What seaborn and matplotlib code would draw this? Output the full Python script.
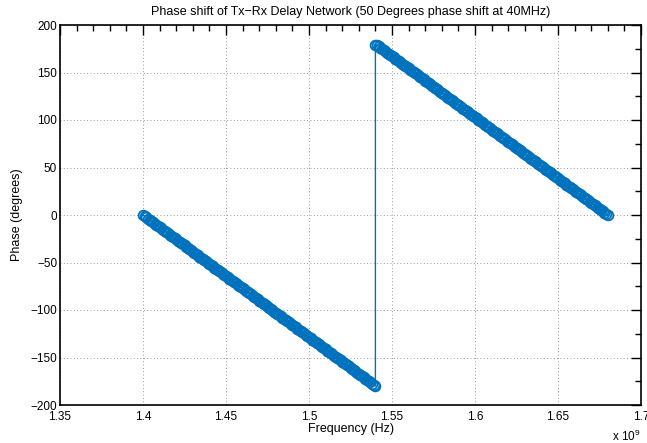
import numpy as np
import pandas as pd
import matplotlib
matplotlib.use("Agg")
import matplotlib.pyplot as plt
import seaborn as sns
from matplotlib.ticker import MultipleLocator, FuncFormatter

# Frequency samples (MHz) and measured phase (degrees), 1 MHz steps
freq_mhz_low = [1400, 1401, 1402, 1403, 1404, 1405, 1406, 1407, 1408, 1409,
                1410, 1411, 1412, 1413, 1414, 1415, 1416, 1417, 1418, 1419,
                1420, 1421, 1422, 1423, 1424, 1425, 1426, 1427, 1428, 1429,
                1430, 1431, 1432, 1433, 1434, 1435, 1436, 1437, 1438, 1439,
                1440, 1441, 1442, 1443, 1444, 1445, 1446, 1447, 1448, 1449,
                1450, 1451, 1452, 1453, 1454, 1455, 1456, 1457, 1458, 1459,
                1460, 1461, 1462, 1463, 1464, 1465, 1466, 1467, 1468, 1469,
                1470, 1471, 1472, 1473, 1474, 1475, 1476, 1477, 1478, 1479,
                1480, 1481, 1482, 1483, 1484, 1485, 1486, 1487, 1488, 1489,
                1490, 1491, 1492, 1493, 1494, 1495, 1496, 1497, 1498, 1499,
                1500, 1501, 1502, 1503, 1504, 1505, 1506, 1507, 1508, 1509,
                1510, 1511, 1512, 1513, 1514, 1515, 1516, 1517, 1518, 1519,
                1520, 1521, 1522, 1523, 1524, 1525, 1526, 1527, 1528, 1529,
                1530, 1531, 1532, 1533, 1534, 1535, 1536, 1537, 1538, 1539,
                1540]
phase_low = [0.0, -1.3, -2.6, -3.9, -5.1, -6.4, -7.7,
             -9.0, -10.3, -11.6, -12.9, -14.1, -15.4, -16.7,
             -18.0, -19.3, -20.6, -21.9, -23.1, -24.4, -25.7,
             -27.0, -28.3, -29.6, -30.9, -32.1, -33.4, -34.7,
             -36.0, -37.3, -38.6, -39.9, -41.1, -42.4, -43.7,
             -45.0, -46.3, -47.6, -48.9, -50.1, -51.4, -52.7,
             -54.0, -55.3, -56.6, -57.9, -59.1, -60.4, -61.7,
             -63.0, -64.3, -65.6, -66.9, -68.1, -69.4, -70.7,
             -72.0, -73.3, -74.6, -75.9, -77.1, -78.4, -79.7,
             -81.0, -82.3, -83.6, -84.9, -86.1, -87.4, -88.7,
             -90.0, -91.3, -92.6, -93.9, -95.1, -96.4, -97.7,
             -99.0, -100.3, -101.6, -102.9, -104.1, -105.4, -106.7,
             -108.0, -109.3, -110.6, -111.9, -113.1, -114.4, -115.7,
             -117.0, -118.3, -119.6, -120.9, -122.1, -123.4, -124.7,
             -126.0, -127.3, -128.6, -129.9, -131.1, -132.4, -133.7,
             -135.0, -136.3, -137.6, -138.9, -140.1, -141.4, -142.7,
             -144.0, -145.3, -146.6, -147.9, -149.1, -150.4, -151.7,
             -153.0, -154.3, -155.6, -156.9, -158.1, -159.4, -160.7,
             -162.0, -163.3, -164.6, -165.9, -167.1, -168.4, -169.7,
             -171.0, -172.3, -173.6, -174.9, -176.1, -177.4, -178.7,
             -180.0]

freq_mhz_high = [1540, 1541, 1542, 1543, 1544, 1545, 1546, 1547, 1548, 1549,
                 1550, 1551, 1552, 1553, 1554, 1555, 1556, 1557, 1558, 1559,
                 1560, 1561, 1562, 1563, 1564, 1565, 1566, 1567, 1568, 1569,
                 1570, 1571, 1572, 1573, 1574, 1575, 1576, 1577, 1578, 1579,
                 1580, 1581, 1582, 1583, 1584, 1585, 1586, 1587, 1588, 1589,
                 1590, 1591, 1592, 1593, 1594, 1595, 1596, 1597, 1598, 1599,
                 1600, 1601, 1602, 1603, 1604, 1605, 1606, 1607, 1608, 1609,
                 1610, 1611, 1612, 1613, 1614, 1615, 1616, 1617, 1618, 1619,
                 1620, 1621, 1622, 1623, 1624, 1625, 1626, 1627, 1628, 1629,
                 1630, 1631, 1632, 1633, 1634, 1635, 1636, 1637, 1638, 1639,
                 1640, 1641, 1642, 1643, 1644, 1645, 1646, 1647, 1648, 1649,
                 1650, 1651, 1652, 1653, 1654, 1655, 1656, 1657, 1658, 1659,
                 1660, 1661, 1662, 1663, 1664, 1665, 1666, 1667, 1668, 1669,
                 1670, 1671, 1672, 1673, 1674, 1675, 1676, 1677, 1678, 1679,
                 1680]
phase_high = [179.0, 178.7, 177.4, 176.1, 174.9, 173.6, 172.3,
              171.0, 169.7, 168.4, 167.1, 165.9, 164.6, 163.3,
              162.0, 160.7, 159.4, 158.1, 156.9, 155.6, 154.3,
              153.0, 151.7, 150.4, 149.1, 147.9, 146.6, 145.3,
              144.0, 142.7, 141.4, 140.1, 138.9, 137.6, 136.3,
              135.0, 133.7, 132.4, 131.1, 129.9, 128.6, 127.3,
              126.0, 124.7, 123.4, 122.1, 120.9, 119.6, 118.3,
              117.0, 115.7, 114.4, 113.1, 111.9, 110.6, 109.3,
              108.0, 106.7, 105.4, 104.1, 102.9, 101.6, 100.3,
              99.0, 97.7, 96.4, 95.1, 93.9, 92.6, 91.3,
              90.0, 88.7, 87.4, 86.1, 84.9, 83.6, 82.3,
              81.0, 79.7, 78.4, 77.1, 75.9, 74.6, 73.3,
              72.0, 70.7, 69.4, 68.1, 66.9, 65.6, 64.3,
              63.0, 61.7, 60.4, 59.1, 57.9, 56.6, 55.3,
              54.0, 52.7, 51.4, 50.1, 48.9, 47.6, 46.3,
              45.0, 43.7, 42.4, 41.1, 39.9, 38.6, 37.3,
              36.0, 34.7, 33.4, 32.1, 30.9, 29.6, 28.3,
              27.0, 25.7, 24.4, 23.1, 21.9, 20.6, 19.3,
              18.0, 16.7, 15.4, 14.1, 12.9, 11.6, 10.3,
              9.0, 7.7, 6.4, 5.1, 3.9, 2.6, 1.3,
              0.0]

x_ticks = [1.35, 1.4, 1.45, 1.5, 1.55, 1.6, 1.65, 1.7]
y_ticks = [-200, -150, -100, -50, 0, 50, 100, 150, 200]

df = pd.DataFrame({
    "freq": np.array(freq_mhz_low + freq_mhz_high) * 1e6,
    "phase": phase_low + phase_high,
})

sns.set_style("white")
plt.rcParams["font.family"] = ["Liberation Sans", "DejaVu Sans"]
plt.rcParams["mathtext.fontset"] = "custom"
plt.rcParams["mathtext.rm"] = "Liberation Sans"
plt.rcParams["text.color"] = "black"
plt.rcParams["axes.labelcolor"] = "black"

fig = plt.figure(figsize=(6.47, 4.43), dpi=100)
ax = fig.add_axes([60 / 647, 1 - 405 / 443, 581 / 647, 380 / 443])

blue = "#0072BD"
sns.lineplot(data=df, x="freq", y="phase", sort=False, estimator=None, ax=ax,
             color=blue, linewidth=1.0, marker="o", markersize=7,
             markerfacecolor="none", markeredgecolor=blue, markeredgewidth=1.3)

ax.set_xlim(1.35e9, 1.7e9)
ax.set_ylim(-200, 200)
ax.set_xticks([t * 1e9 for t in x_ticks])
ax.set_yticks(y_ticks)
ax.xaxis.set_major_formatter(FuncFormatter(lambda v, p: "%g" % (v / 1e9)))
ax.xaxis.set_minor_locator(MultipleLocator(0.01e9))
ax.yaxis.set_minor_locator(MultipleLocator(25))

ax.tick_params(which="both", direction="in", top=True, right=True,
               colors="black", labelsize=8.5, width=1.0)
ax.tick_params(which="major", length=7)
ax.tick_params(which="minor", length=4)
ax.tick_params(axis="x", which="major", pad=4.5)
ax.tick_params(axis="y", which="major", pad=2)
for s in ax.spines.values():
    s.set_linewidth(1.2)
    s.set_color("black")

ax.grid(True, which="major", linestyle=(0, (1, 3)), color="#777777", linewidth=0.6)

ax.set_title("Phase shift of Tx\u2212Rx Delay Network (50 Degrees phase shift at 40MHz)",
             fontsize=9, pad=7, color="black")
ax.set_xlabel("Frequency (Hz)", fontsize=9)
ax.set_ylabel("Phase (degrees)", fontsize=9)
ax.xaxis.set_label_coords(0.5, (405 - 423) / 380)
ax.yaxis.set_label_coords((23 - 60) / 581, 0.5)
fig.text(612 / 647, 1 - 436 / 443, r"x 10$^{9}$", fontsize=8.5, va="center", ha="left")

fig.savefig("out.png", dpi=100)
